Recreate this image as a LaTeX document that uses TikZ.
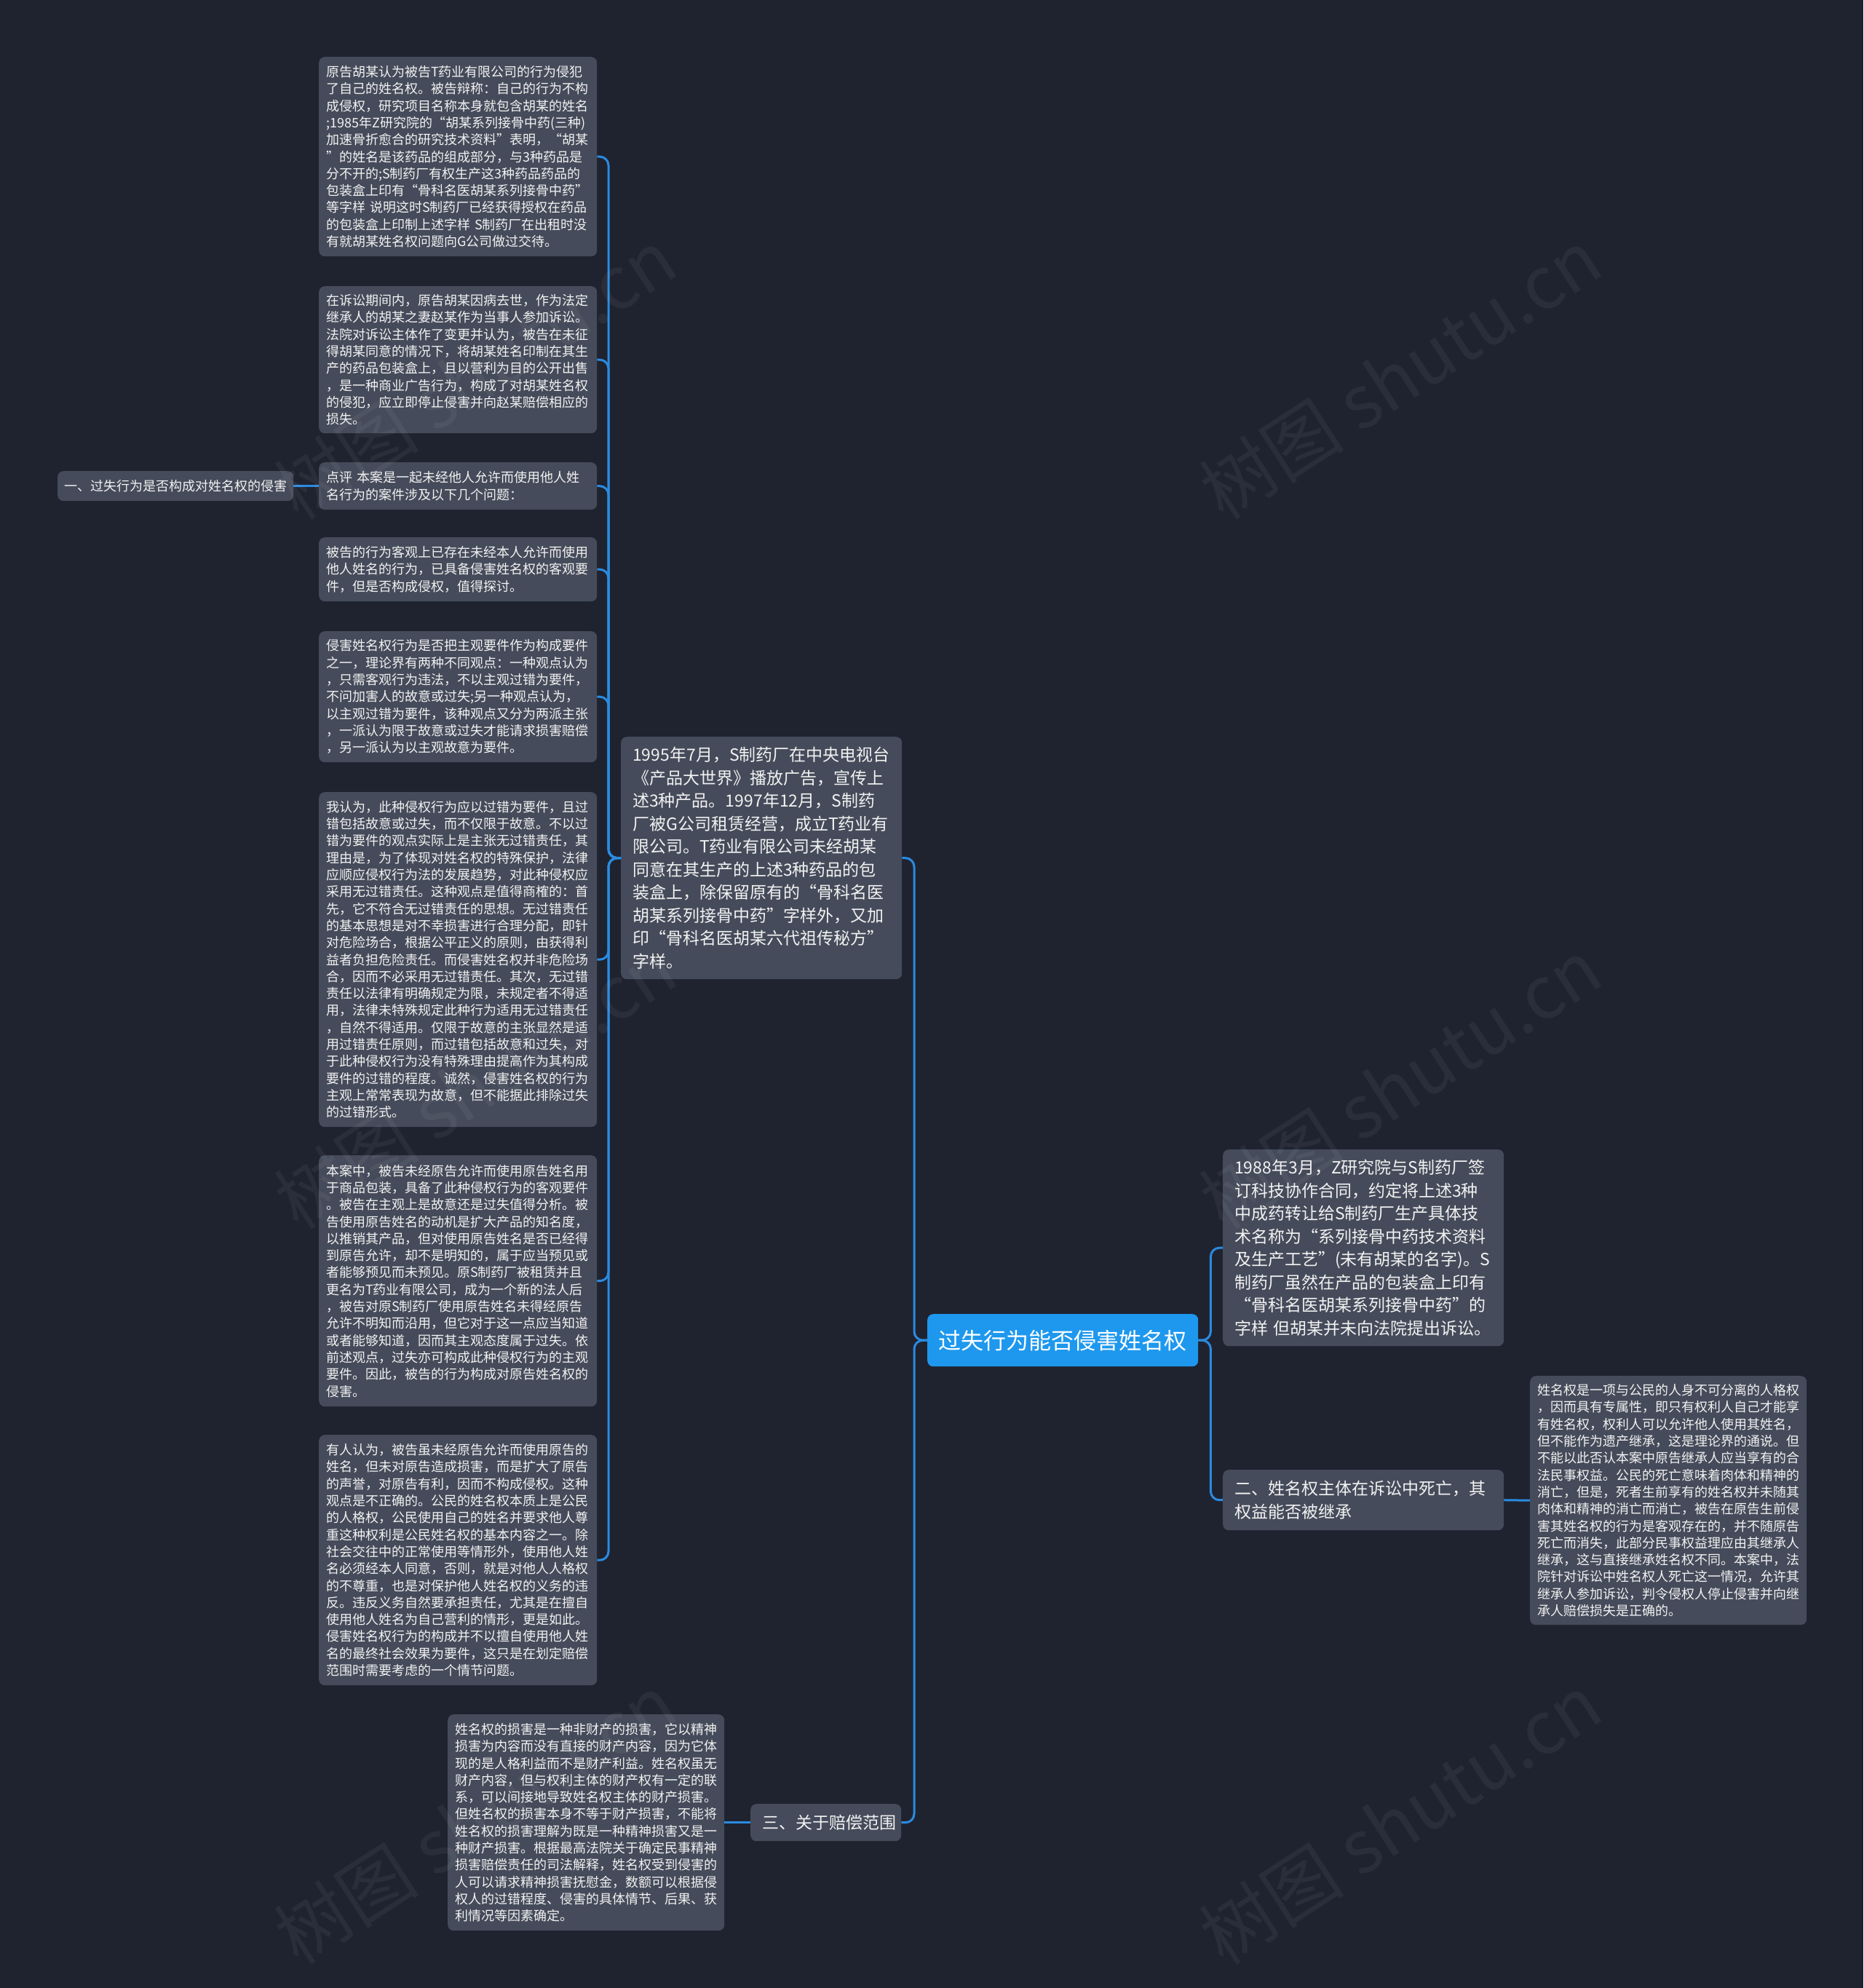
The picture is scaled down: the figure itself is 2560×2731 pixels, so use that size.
\documentclass[tikz,border=0pt]{standalone}
\usepackage{fontspec}
\setmainfont{Noto Sans CJK SC}
\definecolor{bg}{HTML}{1F2330}
\definecolor{boxc}{HTML}{454B5A}
\definecolor{rootc}{HTML}{1E98EE}
\definecolor{linec}{HTML}{2A8BE0}
\definecolor{txt}{HTML}{F2F2F2}
\tikzset{
  sbox/.style={fill=boxc, rounded corners=8pt, text=txt, anchor=north west, align=left,
    inner xsep=10pt, inner ysep=0pt, font=\fontsize{18}{23.3}\selectfont},
  bbox/.style={fill=boxc, rounded corners=8pt, text=txt, anchor=north west, align=left,
    inner xsep=16pt, inner ysep=0pt, font=\fontsize{23}{31.5}\selectfont},
  rootbox/.style={fill=rootc, rounded corners=8pt, text=white, anchor=north west, align=center,
    inner sep=0pt, font=\fontsize{31}{36}\selectfont},
  conn/.style={draw=linec, line width=3pt, rounded corners=12pt},
  wmark/.style={text=white, opacity=0.05, rotate=33, font=\fontsize{100}{110}\selectfont}
}
\begin{document}
\begin{tikzpicture}[x=1pt,y=-1pt]
\fill[bg] (0,0) rectangle (2560,2731);
\useasboundingbox (0,0) rectangle (2560,2731);

% root
\node[rootbox, minimum width=372pt, minimum height=72pt] (root) at (1274,1805) {过失行为能否侵害姓名权};

% left main child
\node[bbox, text width=354pt, minimum height=333pt] (m) at (853,1012) {1995年7月，S制药厂在中央电视台\\
《产品大世界》播放广告，宣传上\\
述3种产品。1997年12月，S制药\\
厂被G公司租赁经营，成立T药业有\\
限公司。T药业有限公司未经胡某\\
同意在其生产的上述3种药品的包\\
装盒上，除保留原有的“骨科名医\\
胡某系列接骨中药”字样外，又加\\
印“骨科名医胡某六代祖传秘方”\\
字样。};

\node[bbox, text width=175pt, minimum height=51pt] (san) at (1031,2478) {三、关于赔偿范围};

% right children
\node[bbox, text width=354pt, minimum height=270pt] (c88) at (1680,1579) {1988年3月，Z研究院与S制药厂签\\
订科技协作合同，约定将上述3种\\
中成药转让给S制药厂生产具体技\\
术名称为“系列接骨中药技术资料\\
及生产工艺”(未有胡某的名字)。S\\
制药厂虽然在产品的包装盒上印有\\
“骨科名医胡某系列接骨中药”的\\
字样 但胡某并未向法院提出诉讼。};

\node[bbox, text width=354pt, minimum height=83pt] (er) at (1680,2019) {二、姓名权主体在诉讼中死亡，其\\
权益能否被继承};

\node[sbox, text width=360pt, minimum height=342pt] (rb) at (2102,1890) {姓名权是一项与公民的人身不可分离的人格权\\
，因而具有专属性，即只有权利人自己才能享\\
有姓名权，权利人可以允许他人使用其姓名，\\
但不能作为遗产继承，这是理论界的通说。但\\
不能以此否认本案中原告继承人应当享有的合\\
法民事权益。公民的死亡意味着肉体和精神的\\
消亡，但是，死者生前享有的姓名权并未随其\\
肉体和精神的消亡而消亡，被告在原告生前侵\\
害其姓名权的行为是客观存在的，并不随原告\\
死亡而消失，此部分民事权益理应由其继承人\\
继承，这与直接继承姓名权不同。本案中，法\\
院针对诉讼中姓名权人死亡这一情况，允许其\\
继承人参加诉讼，判令侵权人停止侵害并向继\\
承人赔偿损失是正确的。};

\node[sbox, text width=360pt, minimum height=297pt] (bb) at (615,2355) {姓名权的损害是一种非财产的损害，它以精神\\
损害为内容而没有直接的财产内容，因为它体\\
现的是人格利益而不是财产利益。姓名权虽无\\
财产内容，但与权利主体的财产权有一定的联\\
系，可以间接地导致姓名权主体的财产损害。\\
但姓名权的损害本身不等于财产损害，不能将\\
姓名权的损害理解为既是一种精神损害又是一\\
种财产损害。根据最高法院关于确定民事精神\\
损害赔偿责任的司法解释，姓名权受到侵害的\\
人可以请求精神损害抚慰金，数额可以根据侵\\
权人的过错程度、侵害的具体情节、后果、获\\
利情况等因素确定。};

% left column
\node[sbox, text width=362pt, minimum height=274pt] (l1) at (438,78) {原告胡某认为被告T药业有限公司的行为侵犯\\
了自己的姓名权。被告辩称：自己的行为不构\\
成侵权，研究项目名称本身就包含胡某的姓名\\
;1985年Z研究院的“胡某系列接骨中药(三种)\\
加速骨折愈合的研究技术资料”表明，“胡某\\
”的姓名是该药品的组成部分，与3种药品是\\
分不开的;S制药厂有权生产这3种药品药品的\\
包装盒上印有“骨科名医胡某系列接骨中药”\\
等字样 说明这时S制药厂已经获得授权在药品\\
的包装盒上印制上述字样 S制药厂在出租时没\\
有就胡某姓名权问题向G公司做过交待。};

\node[sbox, text width=362pt, minimum height=202pt] (l2) at (438,393) {在诉讼期间内，原告胡某因病去世，作为法定\\
继承人的胡某之妻赵某作为当事人参加诉讼。\\
法院对诉讼主体作了变更并认为，被告在未征\\
得胡某同意的情况下，将胡某姓名印制在其生\\
产的药品包装盒上，且以营利为目的公开出售\\
，是一种商业广告行为，构成了对胡某姓名权\\
的侵犯，应立即停止侵害并向赵某赔偿相应的\\
损失。};

\node[sbox, text width=362pt, minimum height=65pt] (l3) at (438,635) {点评 本案是一起未经他人允许而使用他人姓\\
名行为的案件涉及以下几个问题：};

\node[sbox, text width=362pt, minimum height=88pt] (l4) at (438,738) {被告的行为客观上已存在未经本人允许而使用\\
他人姓名的行为，已具备侵害姓名权的客观要\\
件，但是否构成侵权，值得探讨。};

\node[sbox, text width=362pt, minimum height=180pt] (l5) at (438,867) {侵害姓名权行为是否把主观要件作为构成要件\\
之一，理论界有两种不同观点：一种观点认为\\
，只需客观行为违法，不以主观过错为要件，\\
不问加害人的故意或过失;另一种观点认为，\\
以主观过错为要件，该种观点又分为两派主张\\
，一派认为限于故意或过失才能请求损害赔偿\\
，另一派认为以主观故意为要件。};

\node[sbox, text width=362pt, minimum height=460pt] (l6) at (438,1088) {我认为，此种侵权行为应以过错为要件，且过\\
错包括故意或过失，而不仅限于故意。不以过\\
错为要件的观点实际上是主张无过错责任，其\\
理由是，为了体现对姓名权的特殊保护，法律\\
应顺应侵权行为法的发展趋势，对此种侵权应\\
采用无过错责任。这种观点是值得商榷的：首\\
先，它不符合无过错责任的思想。无过错责任\\
的基本思想是对不幸损害进行合理分配，即针\\
对危险场合，根据公平正义的原则，由获得利\\
益者负担危险责任。而侵害姓名权并非危险场\\
合，因而不必采用无过错责任。其次，无过错\\
责任以法律有明确规定为限，未规定者不得适\\
用，法律未特殊规定此种行为适用无过错责任\\
，自然不得适用。仅限于故意的主张显然是适\\
用过错责任原则，而过错包括故意和过失，对\\
于此种侵权行为没有特殊理由提高作为其构成\\
要件的过错的程度。诚然，侵害姓名权的行为\\
主观上常常表现为故意，但不能据此排除过失\\
的过错形式。};

\node[sbox, text width=362pt, minimum height=345pt] (l7) at (438,1587) {本案中，被告未经原告允许而使用原告姓名用\\
于商品包装，具备了此种侵权行为的客观要件\\
。被告在主观上是故意还是过失值得分析。被\\
告使用原告姓名的动机是扩大产品的知名度，\\
以推销其产品，但对使用原告姓名是否已经得\\
到原告允许，却不是明知的，属于应当预见或\\
者能够预见而未预见。原S制药厂被租赁并且\\
更名为T药业有限公司，成为一个新的法人后\\
，被告对原S制药厂使用原告姓名未得经原告\\
允许不明知而沿用，但它对于这一点应当知道\\
或者能够知道，因而其主观态度属于过失。依\\
前述观点，过失亦可构成此种侵权行为的主观\\
要件。因此，被告的行为构成对原告姓名权的\\
侵害。};

\node[sbox, text width=362pt, minimum height=344pt] (l8) at (438,1971) {有人认为，被告虽未经原告允许而使用原告的\\
姓名，但未对原告造成损害，而是扩大了原告\\
的声誉，对原告有利，因而不构成侵权。这种\\
观点是不正确的。公民的姓名权本质上是公民\\
的人格权，公民使用自己的姓名并要求他人尊\\
重这种权利是公民姓名权的基本内容之一。除\\
社会交往中的正常使用等情形外，使用他人姓\\
名必须经本人同意，否则，就是对他人人格权\\
的不尊重，也是对保护他人姓名权的义务的违\\
反。违反义务自然要承担责任，尤其是在擅自\\
使用他人姓名为自己营利的情形，更是如此。\\
侵害姓名权行为的构成并不以擅自使用他人姓\\
名的最终社会效果为要件，这只是在划定赔偿\\
范围时需要考虑的一个情节问题。};

\node[sbox, inner xsep=9pt, text width=306pt, minimum height=41pt] (yi) at (79,647) {一、过失行为是否构成对姓名权的侵害};

% connectors
\draw[conn] (root.west) -- ++(-18,0) |- (m.east);
\draw[conn] (root.west) -- ++(-18,0) |- (san.east);
\draw[conn] (root.east) -- ++(17,0) |- (c88.west);
\draw[conn] (root.east) -- ++(17,0) |- (er.west);
\draw[conn] (er.east) -- (rb.west);
\draw[conn] (san.west) -- (bb.east);
\draw[conn] (l3.west) -- (yi.east);
\foreach \n in {l1,l2,l3,l4,l5,l6,l7,l8}{
  \draw[conn] (m.west) -- ++(-17,0) |- (\n.east);
}

% watermarks
\foreach \wx/\wy in {653/514, 1924/514, 653/1489, 1924/1489, 653/2499, 1924/2499}{
  \node[wmark] at (\wx,\wy) {树图 shutu.cn};
}
\end{tikzpicture}
\end{document}
